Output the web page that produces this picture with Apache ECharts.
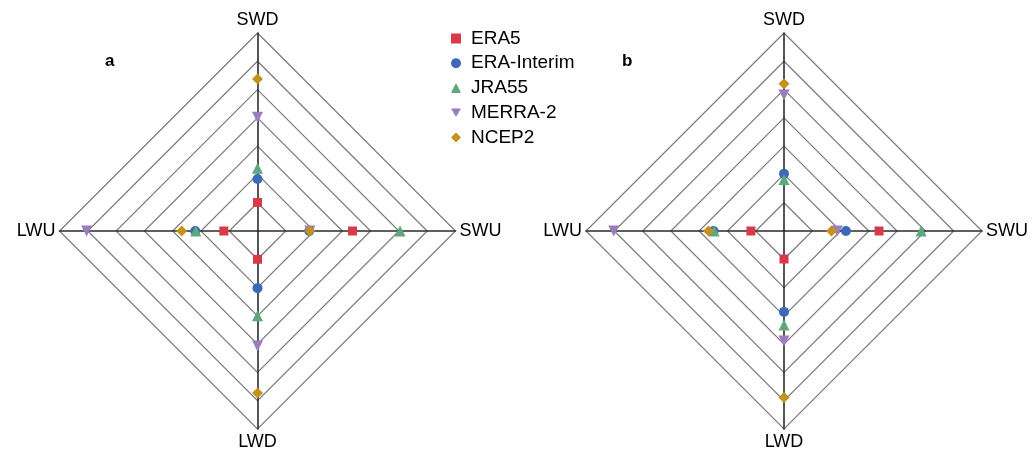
<!DOCTYPE html>
<html><head><meta charset="utf-8">
<script src="https://cdn.jsdelivr.net/npm/echarts@6/dist/echarts.min.js"></script>
<style>html,body{margin:0;padding:0;background:#fff}#c{width:1034px;height:456px}</style>
</head><body><div id="c"></div>
<script>
// Axes in clockwise order from top
const axesCW = ['SWD', 'SWU', 'LWD', 'LWU'];
const datasets = ['ERA5', 'ERA-Interim', 'JRA55', 'MERRA-2', 'NCEP2'];
const ringMax = 7;
// panel a values [SWD, SWU, LWD, LWU]
const aERA5 = [1.01, 3.36, 1.0, 1.19];
const aERAI = [1.84, 1.83, 2.02, 2.2];
const aJRA55 = [2.22, 5.04, 3.0, 2.18];
const aMERRA2 = [4.02, 1.85, 4.07, 6.04];
const aNCEP2 = [5.37, 1.85, 5.73, 2.68];
// panel b values [SWD, SWU, LWD, LWU] ('-' = no value shown)
const bERA5 = ['-', 3.36, 0.99, 1.17];
const bERAI = [2.02, 2.19, 2.86, 2.49];
const bJRA55 = [1.82, 4.85, 3.32, 2.47];
const bMERRA2 = [4.81, 1.88, 3.89, 6.02];
const bNCEP2 = [5.21, 1.68, 5.89, 2.67];

const colors = ['#d93a48', '#3d69b9', '#5ea97b', '#9b7dbe', '#c4921b'];
const symbols = ['rect', 'circle', 'triangle', 'path://M0,0 L10,0 L5,8.7 Z', 'diamond'];
const sizes = [9, 10, 11, 11, 11];
const legendSizes = [9, 10, 10, 10, 11];
const panelA = [aERA5, aERAI, aJRA55, aMERRA2, aNCEP2];
const panelB = [bERA5, bERAI, bJRA55, bMERRA2, bNCEP2];
const FONT = 'Liberation Sans, Arial, sans-serif';
const centers = [257.5, 784];
const R = 198;

// radar indicators are placed counterclockwise: SWD, LWU, LWD, SWU
const radarOrder = [axesCW[0], axesCW[3], axesCW[2], axesCW[1]];
function radarCfg(cx) {
  return {
    center: [cx, 231], radius: R, startAngle: 90, shape: 'polygon', splitNumber: 7,
    indicator: radarOrder.map(n => ({ name: n, min: 0, max: ringMax })),
    axisName: { color: '#000', fontSize: 18, fontFamily: FONT },
    nameGap: 4,
    splitLine: { lineStyle: { color: '#7a7a7a', width: 1.2 } },
    splitArea: { show: false },
    axisLine: { lineStyle: { color: '#2b2b2b', width: 1.6 } },
    axisTick: { show: false }, axisLabel: { show: false }
  };
}
const series = [];
[panelA, panelB].forEach((panel, p) => {
  panel.forEach((vals, i) => {
    series.push({
      type: 'scatter', coordinateSystem: 'polar', polarIndex: p, name: datasets[i],
      symbol: symbols[i], symbolSize: sizes[i], z: 5,
      itemStyle: { color: colors[i], opacity: 1 }, silent: true,
      data: axesCW.map((n, k) => [vals[k], n])
    });
  });
});
const chart = echarts.init(document.getElementById('c'), null, { renderer: 'canvas' });
chart.setOption({
  animation: false,
  backgroundColor: '#fff',
  title: [
    { text: 'a', left: 100, top: 48, textStyle: { fontSize: 17, fontWeight: 'bold', color: '#000', fontFamily: FONT } },
    { text: 'b', left: 617, top: 48, textStyle: { fontSize: 17, fontWeight: 'bold', color: '#000', fontFamily: FONT } }
  ],
  legend: {
    orient: 'vertical', left: 446, top: 24, itemGap: 5.75, itemWidth: 10, itemHeight: 10,
    data: datasets.map((d, i) => ({ name: d, icon: symbols[i], itemStyle: { color: colors[i] } })),
    textStyle: { fontSize: 19, lineHeight: 19, color: '#000', fontFamily: FONT, padding: [0, 0, 0, 5] }
  },
  radar: centers.map(c => radarCfg(c)),
  polar: centers.map(c => ({ center: [c, 231], radius: R })),
  angleAxis: centers.map((c, p) => ({
    polarIndex: p, type: 'category', data: axesCW, startAngle: 135, clockwise: true, boundaryGap: true,
    axisLine: { show: false }, axisTick: { show: false }, axisLabel: { show: false }, splitLine: { show: false }
  })),
  radiusAxis: centers.map((c, p) => ({
    polarIndex: p, type: 'value', min: 0, max: ringMax,
    axisLine: { show: false }, axisTick: { show: false }, axisLabel: { show: false }, splitLine: { show: false }
  })),
  series: series
});
</script></body></html>
